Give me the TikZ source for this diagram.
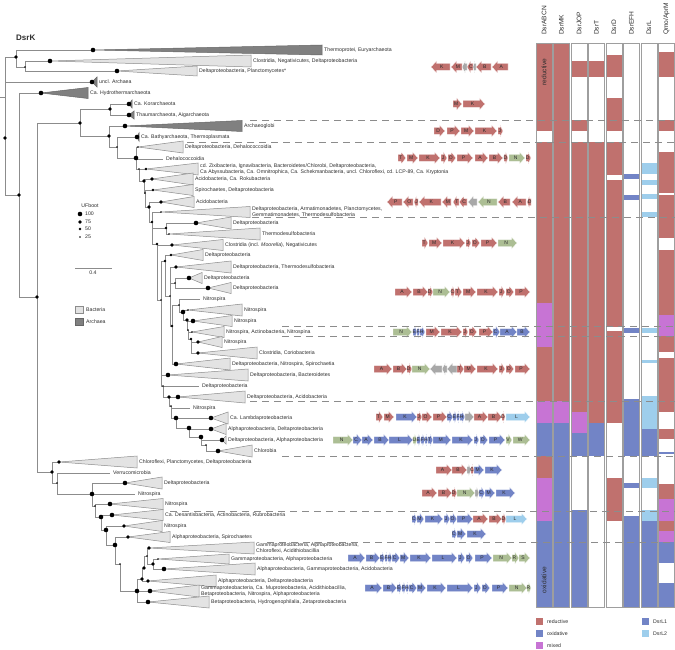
\documentclass[tikz,border=0pt]{standalone}
\usepackage{fontspec}
\setmainfont{Liberation Sans}
\usetikzlibrary{positioning}

\definecolor{rd}{RGB}{192,113,110}
\definecolor{bl}{RGB}{114,132,198}
\definecolor{gn}{RGB}{172,190,148}
\definecolor{gy}{RGB}{168,168,168}
\definecolor{lb}{RGB}{158,206,236}
\definecolor{mx}{RGB}{199,116,212}
\definecolor{treeG}{RGB}{140,140,140}
\definecolor{txtG}{RGB}{45,45,45}

\tikzset{
  branch/.style={draw=treeG, line width=0.6pt}, % tree edges
  cladeL/.style={draw=treeG, fill=black!11, line width=0.5pt}, % bacterial clade
  cladeD/.style={draw=black!60, fill=black!50, line width=0.5pt}, % archaeal clade
  lab/.style={font=\fontsize{5.2}{6.4}\selectfont, text=txtG, inner sep=0pt, align=left}, % tree labels
  genebox/.style={draw=white, line width=0.25pt}, % one gene arrow
  genetext/.style={font=\fontsize{5}{5}\selectfont, text=txtG, inner sep=0pt},
  colframe/.style={draw=black!38, line width=0.8pt}, % frame of a column
  colhead/.style={font=\fontsize{6.6}{7}\selectfont, text=txtG, rotate=90, anchor=west, inner sep=0pt},
  sep/.style={draw=black!45, line width=0.5pt, dash pattern=on 7pt off 5pt}, % dashed separators
}

% gene arrow: start x, end x, y, colour, letter
\newcommand{\genearrow}[5]{%
  \pgfmathsetmacro\gLen{#2-#1}%
  \pgfmathsetmacro\gHd{((\gLen>0)*2-1)*min(5.5,abs(\gLen)*0.6)}%
  \pgfmathsetmacro\gNeck{#2-\gHd}%
  \pgfmathsetmacro\gMid{(#1+#2)/2-0.25*\gHd}%
  \pgfmathsetmacro\gTop{#3-3.5}\pgfmathsetmacro\gBot{#3+3.5}%
  \pgfmathsetmacro\gTT{#3-6}\pgfmathsetmacro\gBB{#3+6}%
  \filldraw[genebox, fill=#4] (#1,\gTop) -- (\gNeck,\gTop) -- (\gNeck,\gTT)
    -- (#2,#3) -- (\gNeck,\gBB) -- (\gNeck,\gBot) -- (#1,\gBot) -- cycle;
  \node[genetext] at (\gMid,#3) {#5};%
}

\begin{document}
\begin{tikzpicture}[x=1pt, y=-1pt]
  \useasboundingbox (0,0) rectangle (675,650);

  \node[font=\fontsize{8}{9}\selectfont\bfseries, text=txtG, anchor=west, inner sep=0pt] (title) at (16,38) {DsrK};

  % inner nodes of the tree: name/x/y/support
  \def\innernodes{rt/5/138/3, a1/16/57/3, a2/25/67/1, b1/19/195/3, b2/37/297/3, b3/80/123/3,
    ko/110/109/3, b5/109/136/3, b6/117/147/1, c0/136/158/4, c1/139/169/1, c2/144/181/3,
    c3/145/193/1, c4/149/207/3, c5/152/222/2, c6/166/228/2, c7/157/244/2, c8/161/300/1,
    c9/165/261/2, c10/170/296/1, c10a/175/283/1, c11/172/326/2, c12/179/305/1, c13/183/312/4,
    c14/187/320/3, c15/188/330/1, c16/191/339/2, c17/163/386/1, c18/169/397/3, c19/171/406/1,
    c20/176/418/4, c21/189/428/4, c22/201/437/4, c23/206/445/1, b4/52/472/3, e1/57/483/1,
    e2/92/494/4, e3/95/506/1, e4/101/517/4, e5/106/530/4, e6/115/545/4, e7/120/564/1,
    e8/137/591/4, f1/142/579/3, f2/144/568/3, f3/147/556/1, f4/153/564/3}
  % collapsed clades: name/x/y/support/end/half/style/label
  \def\clades{th/93/50/4/322/5/cladeD/{Thermoprotei, Euryarchaeota},
    cl/50/61/4/251/6/cladeL/{Clostridia, Negativicutes, Deltaproteobacteria},
    dp/117/71/4/197/5/cladeL/{Deltaproteobacteria, Planctomycetes*},
    ua/92/82/4/97/5/cladeD/{uncl. Archaea},
    hy/41/93/4/88/5.5/cladeD/{Ca. Hydrothermarchaeota},
    kor/129/104/4/132/4/cladeD/{Ca. Korarchaeota},
    tha/129/115/4/134/4/cladeD/{Thaumarchaeota, Aigarchaeota},
    ag/125/126/4/242/5.5/cladeD/{Archaeoglobi},
    bat/137/137/4/139/4/cladeD/{Ca. Bathyarchaeota, Thermoplasmata},
    dd/138/147/1/183/6/cladeL/{Deltaproteobacteria, Dehalococcoidia},
    zx/146/169/2/198/6/cladeL/{cd. Zixibacteria, Ignavibacteria, Bacteroidetes/Chlorobi, Deltaproteobacteria,\\Ca Abyssubacteria, Ca. Omnitrophica, Ca. Schekmanbacteria, uncl. Chloroflexi, cd. LCP-89, Ca. Kryptonia},
    ac1/152/179/3/193/6/cladeL/{Acidobacteria, Ca. Rokubacteria},
    sp/153/190/2/193/5.5/cladeL/{Spirochaetes, Deltaproteobacteria},
    ac2/161/202/3/194/5.5/cladeL/{Acidobacteria},
    da/161/212/1/250/5.5/cladeL/{Deltaproteobacteria, Armatimonadetes, Planctomycetes,\\Gemmatimonadetes, Thermodesulfobacteria},
    d1/196/223/4/231/6/cladeL/{Deltaproteobacteria},
    tds/169/234/1/260/6/cladeL/{Thermodesulfobacteria},
    cm/172/245/3/223/5.5/cladeL/{Clostridia (incl. \textit{Moorella}), Negativicutes},
    d2/171/255/2/203/5.5/cladeL/{Deltaproteobacteria},
    d3/176/267/3/231/6/cladeL/{Deltaproteobacteria, Thermodesulfobacteria},
    d4/189/278/4/202/5.5/cladeL/{Deltaproteobacteria},
    d5/208/288/4/231/5.5/cladeL/{Deltaproteobacteria},
    ni1/188/310/1/242/6/cladeL/{Nitrospira},
    ni2/193/321/4/232/5.5/cladeL/{Nitrospira},
    ni3/192/332/1/224/5.5/cladeL/{Nitrospira, Actinobacteria, Nitrospina},
    ni4/198/342/3/222/5.5/cladeL/{Nitrospira},
    cc/198/353/3/257/6/cladeL/{Clostridia, Coriobacteria},
    dns/176/364/4/230/6/cladeL/{Deltaproteobacteria, Nitrospira, Spirochaetia},
    dbac/168/375/4/248/6/cladeL/{Deltaproteobacteria, Bacteroidetes},
    dac/178/397/4/245/6/cladeL/{Deltaproteobacteria, Acidobacteria},
    la/211/418/4/228/6/cladeL/{Ca. Lambdaproteobacteria},
    ad/211/429/4/226/5.5/cladeL/{Alphaproteobacteria, Deltaproteobacteria},
    da2/222/440/4/226/4/cladeL/{Deltaproteobacteria, Alphaproteobacteria},
    chl/218/451/4/252/6/cladeL/{Chlorobia},
    chf/59/462/3/137/6/cladeL/{Chloroflexi, Planctomycetes, Deltaproteobacteria},
    dlt/125/483/4/162/6/cladeL/{Deltaproteobacteria},
    ni5/110/504/4/163/5.5/cladeL/{Nitrospira},
    cds/112/515/4/163/5.5/cladeL/{Ca. Desantisbacteria, Actinobacteria, Rubrobacteria},
    ni6/124/526/3/162/5.5/cladeL/{Nitrospira},
    alsp/128/537/3/170/5.5/cladeL/{Alphaproteobacteria, Spirochaetes},
    gac/149/548/3/254/6/cladeL/{Gammaproteobacteria, Alphaproteobacteria,\\Chloroflexi, Acidithiobacillia},
    ga/158/559/1/229/5/cladeL/{Gammaproteobacteria, Alphaproteobacteria},
    aga/164/569/4/255/6/cladeL/{Alphaproteobacteria, Gammaproteobacteria, Acidobacteria},
    ad2/148/581/3/216/6/cladeL/{Alphaproteobacteria, Deltaproteobacteria},
    gm/150/591/4/199/6/cladeL/{Gammaproteobacteria, Ca. Muproteobacteria, Acidithiobacillia,\\Betaproteobacteria, Nitrospira, Alphaproteobacteria},
    bhz/148/602/4/209/6/cladeL/{Betaproteobacteria, Hydrogenophilalia, Zetaproteobacteria}}

  \foreach \n/\x/\y/\d in \innernodes
    \coordinate (\n) at (\x,\y);
  \foreach \n/\x/\y/\d/\e/\h/\s/\t in \clades
    \coordinate (\n) at (\x,\y);
  % single leaves
  \foreach \n/\x/\y/\t in {dh/163/159/Dehalococcoidia, nl1/200/299/Nitrospira,
      dl/199/386/Deltaproteobacteria, nl2/190/408/Nitrospira,
      ver/110/473/Verrucomicrobia, nl3/135/494/Nitrospira} {
    \coordinate (\n) at (\x,\y);
    \node[lab, anchor=west] (\n-l) at (\x+3,\y) {\t};
  }
  \coordinate (stem) at (0,97);
  \draw[branch] (stem) -- (stem -| rt);

  % edges
  \foreach \p/\c in {rt/a1, rt/ua, rt/b1, a1/th, a1/a2, a2/cl, a2/dp, b1/hy, b1/b2,
      b2/b3, b2/b4, b3/ko, b3/b5, ko/kor, ko/tha, b5/ag, b5/b6, b6/bat, b6/c0,
      c0/dd, c0/dh, c0/c1, c1/zx, c1/c2, c2/ac1, c2/c3, c3/sp, c3/c4, c4/ac2, c4/c5,
      c5/da, c5/c6, c5/c7, c6/d1, c6/tds, c7/cm, c7/c8, c8/c9, c8/dbac, c8/c17,
      c9/d2, c9/c10, c10/d3, c10/c10a, c10/c11, c10a/d4, c10a/d5, c11/c12, c11/dns,
      c12/nl1, c12/c13, c13/ni1, c13/c14, c14/ni2, c14/c15, c15/ni3, c15/c16,
      c16/ni4, c16/cc, c17/dl, c17/c18, c18/dac, c18/c19, c19/nl2, c19/c20,
      c20/la, c20/c21, c21/ad, c21/c22, c22/da2, c22/c23, c23/chl,
      b4/chf, b4/e1, e1/ver, e1/e2, e2/dlt, e2/nl3, e2/e3, e3/ni5, e3/e4, e4/cds, e4/e5,
      e5/ni6, e5/e6, e6/alsp, e6/e7, e7/e8, e8/f1, e8/gm, e8/bhz, f1/f2, f1/ad2, f2/f3,
      f3/gac, f3/f4, f4/ga, f4/aga}
    \draw[branch] (\p) |- (\c);

  % clades with their labels
  \foreach \n/\x/\y/\d/\e/\h/\s/\t in \clades {
    \draw[\s] (\n) -- (\e,\y-\h) -- (\e,\y+\h) -- cycle;
    \node[lab, anchor=west] (\n-l) at (\e+2,\y) {\t};
  }

  % support dots
  \foreach \n/\x/\y/\d in \innernodes {
    \pgfmathsetmacro\r{0.3+0.5*\d}
    \fill (\n) circle[radius=\r pt];
  }
  \foreach \n/\x/\y/\d/\e/\h/\s/\t in \clades {
    \pgfmathsetmacro\r{0.3+0.5*\d}
    \fill (\n) circle[radius=\r pt];
  }

  % legend of the tree
  \node[lab] (ufboot) at (90,206) {UFboot};
  \foreach \v/\y/\r in {100/214/2.3, 75/222/1.8, 50/229/1.3, 25/237/0.8} {
    \fill (80,\y) circle[radius=\r pt];
    \node[lab, anchor=west] (uf\v) at (85,\y) {\v};
  }
  \coordinate (sbA) at (75,268);
  \coordinate (sbB) at (112,268);
  \draw[branch] (sbA) -- (sbB);
  \node[lab] (sbl) at (93,273) {0.4};
  \draw[cladeL] (75,306) rectangle (83,313);
  \node[lab, anchor=west] (bac) at (86,309.5) {Bacteria};
  \draw[cladeD] (75,318) rectangle (83,325);
  \node[lab, anchor=west] (arc) at (86,321.5) {Archaea};

  % gene clusters
  \foreach \a/\b/\c/\l in {450/431/rd/K, 462/451/rd/M, 467/462/gy/{}, 473/467/rd/C, 476/473/gy/{}, 491/476/rd/B, 508/492/rd/A}
    \genearrow{\a}{\b}{67}{\c}{\l};
  \foreach \a/\b/\c/\l in {453/462/rd/M, 463/485/rd/K}
    \genearrow{\a}{\b}{104}{\c}{\l};
  \foreach \a/\b/\c/\l in {434/445/rd/D, 447/460/rd/P, 461/474/rd/M, 475/497/rd/K, 498/503/rd/J}
    \genearrow{\a}{\b}{131}{\c}{\l};
  \foreach \a/\b/\c/\l in {398/406/rd/T, 407/418/rd/M, 419/440/rd/K, 441/447/rd/J, 448/456/rd/O, 457/473/rd/P,
      475/488/rd/A, 489/503/rd/B, 504/508/rd/D, 509/525/gn/N, 526/531/rd/D}
    \genearrow{\a}{\b}{158}{\c}{\l};
  \foreach \a/\b/\c/\l in {402/387/rd/P, 413/403/rd/O, 418/414/rd/J, 441/419/rd/K, 451/442/rd/M, 459/453/rd/T,
      467/459/rd/C, 477/468/gy/{}, 497/478/gn/N, 510/498/rd/B, 526/512/rd/A, 531/527/rd/D}
    \genearrow{\a}{\b}{202}{\c}{\l};
  \foreach \a/\b/\c/\l in {422/428/rd/T, 429/442/rd/M, 443/465/rd/K, 466/471/rd/J, 472/480/rd/O, 481/497/rd/P, 498/517/gn/N}
    \genearrow{\a}{\b}{243}{\c}{\l};
  \foreach \a/\b/\c/\l in {395/412/rd/A, 413/428/rd/B, 428/433/rd/D, 433/450/gn/N, 451/455/rd/C, 455/462/rd/T,
      463/476/rd/M, 477/498/rd/K, 499/505/rd/J, 506/514/rd/O, 515/530/rd/P}
    \genearrow{\a}{\b}{292}{\c}{\l};
  \foreach \a/\b/\c/\l in {393/412/gn/N, 413/417/bl/E, 417/420/bl/F, 420/425/bl/H, 426/440/rd/M, 441/462/rd/K,
      463/468/rd/J, 469/477/rd/O, 479/493/rd/P, 493/500/bl/C, 500/517/bl/A, 517/530/bl/B}
    \genearrow{\a}{\b}{332}{\c}{\l};
  \foreach \a/\b/\c/\l in {374/392/rd/A, 393/407/rd/B, 407/412/rd/D, 412/430/gn/N, 442/430/gy/{}, 447/442/gy/{},
      457/447/gy/{}, 457/464/rd/T, 464/476/rd/M, 477/498/rd/K, 499/505/rd/J, 506/514/rd/O, 515/530/rd/P}
    \genearrow{\a}{\b}{369}{\c}{\l};
  \foreach \a/\b/\c/\l in {376/383/rd/T, 384/394/rd/M, 396/417/bl/K, 417/422/rd/J, 422/432/rd/O, 433/447/rd/P,
      447/453/bl/C, 453/457/bl/E, 457/460/bl/F, 460/465/bl/H, 465/474/gy/{}, 474/488/rd/A, 488/502/rd/B,
      502/505/rd/D, 506/530/lb/L}
    \genearrow{\a}{\b}{417}{\c}{\l};
  \foreach \a/\b/\c/\l in {333/353/gn/N, 353/362/bl/C, 362/373/bl/A, 374/389/bl/B, 389/413/bl/L, 413/417/gn/U,
      417/421/bl/E, 421/425/bl/F, 425/428/bl/H, 428/433/bl/T, 433/451/bl/M, 452/473/bl/K, 474/479/bl/J,
      480/488/bl/O, 489/505/bl/P, 506/512/gn/V, 513/530/gn/W}
    \genearrow{\a}{\b}{440}{\c}{\l};
  \foreach \a/\b/\c/\l in {436/452/rd/A, 452/467/rd/B, 467/471/gy/{}, 471/474/rd/C, 474/484/bl/M, 485/502/bl/K}
    \genearrow{\a}{\b}{470}{\c}{\l};
  \foreach \a/\b/\c/\l in {422/437/rd/A, 438/452/rd/B, 452/457/rd/D, 457/475/gn/N, 475/479/gy/{}, 479/485/bl/C,
      485/495/bl/M, 496/515/bl/K}
    \genearrow{\a}{\b}{493}{\c}{\l};
  \foreach \a/\b/\c/\l in {412/417/bl/C, 417/424/bl/M, 425/443/bl/K, 444/450/bl/J, 450/457/bl/O, 457/473/bl/P,
      473/488/rd/A, 489/502/rd/B, 502/506/rd/D, 506/527/lb/L}
    \genearrow{\a}{\b}{519}{\c}{\l};
  \foreach \a/\b/\c/\l in {452/457/bl/C, 457/466/bl/M, 467/486/bl/K}
    \genearrow{\a}{\b}{534}{\c}{\l};
  \foreach \a/\b/\c/\l in {348/365/bl/A, 366/380/bl/B, 380/385/bl/E, 385/388/bl/F, 388/392/bl/H, 392/400/bl/C,
      400/409/bl/M, 410/431/bl/K, 432/457/bl/L, 458/465/bl/J, 466/473/bl/O, 475/492/bl/P, 493/512/gn/N,
      512/519/gn/R, 519/530/gn/S}
    \genearrow{\a}{\b}{558}{\c}{\l};
  \foreach \a/\b/\c/\l in {365/382/bl/A, 383/397/bl/B, 397/402/bl/E, 402/406/bl/F, 406/409/bl/H, 409/417/bl/C,
      417/426/bl/M, 427/446/bl/K, 447/473/bl/L, 474/481/bl/J, 482/490/bl/O, 492/508/bl/P, 509/527/gn/N,
      527/531/gn/R}
    \genearrow{\a}{\b}{588}{\c}{\l};

  % presence columns: column/top/bottom/colour
  \foreach \k/\a/\b/\c in {1/43/131/rd, 1/142/303/rd, 1/303/347/mx, 1/347/401/rd, 1/401/423/mx, 1/423/456/bl,
      1/456/478/rd, 1/478/521/mx, 1/521/607/bl,
      2/43/401/rd, 2/401/423/mx, 2/423/607/bl,
      3/61/77/rd, 3/120/131/rd, 3/142/412/rd, 3/412/433/mx, 3/433/456/bl, 3/510/607/bl,
      4/61/77/rd, 4/142/423/rd, 4/423/456/bl,
      5/55/77/rd, 5/98/131/rd, 5/142/175/rd, 5/180/327/rd, 5/331/423/rd, 5/478/521/rd,
      6/174/179/bl, 6/195/200/bl, 6/328/333/bl, 6/399/456/bl, 6/483/488/bl, 6/516/607/bl,
      7/163/174/lb, 7/180/185/lb, 7/194/199/lb, 7/212/217/lb, 7/328/333/lb, 7/360/363/lb, 7/396/429/lb,
      7/429/456/bl, 7/478/488/lb, 7/510/521/lb, 7/521/607/bl,
      8/52/77/rd, 8/120/131/rd, 8/152/193/rd, 8/195/238/rd, 8/250/315/rd, 8/315/336/mx, 8/336/352/rd,
      8/358/412/rd, 8/429/439/rd, 8/452/454/bl, 8/484/499/rd, 8/499/521/mx, 8/521/531/rd, 8/531/542/mx,
      8/542/563/bl, 8/583/607/bl} {
    \pgfmathsetmacro\xl{536+17.5*(\k-1)}
    \fill[\c] (\xl,\a) rectangle (\xl+16,\b);
  }
  \foreach \k/\t in {1/DsrABCN, 2/DsrMK, 3/DsrJOP, 4/DsrT, 5/DsrD, 6/DsrEFH, 7/DsrL, 8/{Qmo/AprM}} {
    \pgfmathsetmacro\xl{536+17.5*(\k-1)}
    \draw[colframe] (\xl,43) rectangle (\xl+16,607);
    \node[colhead] (head\k) at (\xl+8,35) {\t};
  }
  \node[colhead, anchor=center] (redlab) at (544,72) {reductive};
  \node[colhead, anchor=center] (oxlab) at (544,580) {oxidative};

  % dashed separators
  \foreach \y/\x in {120/250, 142/187, 217/252, 326/282, 336/282, 401/250, 456/282, 511/170, 542/267}
    \draw[sep] (\x,\y) -- (675,\y);

  % legend of the columns
  \foreach \y/\c/\t in {618/rd/reductive, 630/bl/oxidative, 642/mx/mixed} {
    \fill[\c] (536,\y) rectangle (543,\y+7);
    \node[lab, anchor=west] (leg\t) at (547,\y+3.5) {\t};
  }
  \foreach \y/\c/\t in {618/bl/DsrL1, 630/lb/DsrL2} {
    \fill[\c] (642,\y) rectangle (649,\y+7);
    \node[lab, anchor=west] (leg\t) at (653,\y+3.5) {\t};
  }
\end{tikzpicture}
\end{document}
